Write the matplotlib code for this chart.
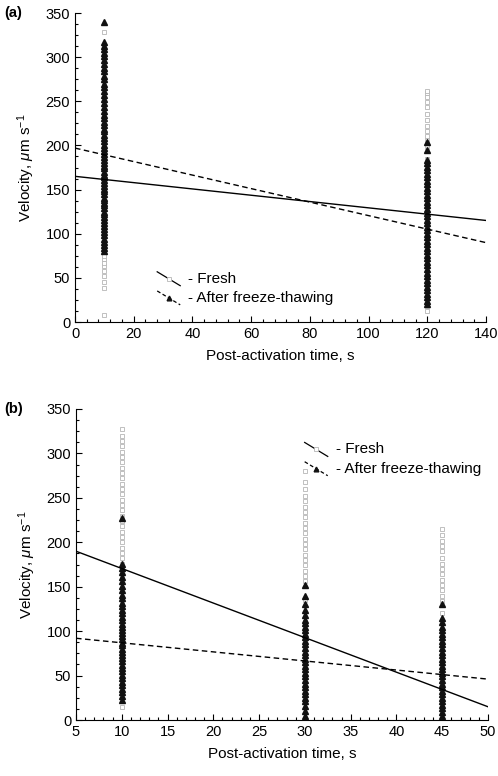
import matplotlib
matplotlib.use('Agg')
import matplotlib.pyplot as plt
from matplotlib.ticker import MultipleLocator, AutoMinorLocator

plt.rcParams['font.family'] = ['Liberation Sans', 'DejaVu Sans']
plt.rcParams['mathtext.fontset'] = 'custom'
plt.rcParams['mathtext.rm'] = 'Liberation Sans'
plt.rcParams['mathtext.it'] = 'Liberation Sans:italic'

# ---- panel (a): 0-140 s ----
a_times = [10, 120]
a_fresh = {
    10: [8, 38, 45, 52, 58, 63, 67, 71, 75, 79, 84, 90, 97, 104, 112, 121, 133, 146,
         160, 175, 188, 202, 218, 236, 252, 268, 284, 296, 312, 328],
    120: [12, 18, 25, 40, 55, 70, 85, 100, 118, 135, 150, 168, 185, 198, 206, 211,
          216, 222, 229, 236, 243, 249, 255, 259, 262],
}
a_thawed = {
    10: [80, 84, 87, 91, 94, 98, 102, 105, 109, 112, 116, 119, 122, 125, 129, 132, 135,
         138, 141, 145, 148, 151, 154, 158, 161, 164, 167, 170, 174, 177, 180, 184, 187,
         190, 194, 197, 201, 205, 208, 212, 216, 219, 223, 227, 231, 235, 239, 244, 248,
         253, 257, 262, 266, 270, 275, 279, 284, 288, 292, 297, 301, 305, 309, 313, 317, 340],
    120: [20, 24, 28, 32, 36, 40, 44, 48, 52, 56, 60, 64, 68, 72, 76, 80, 84, 88, 92, 96,
          100, 104, 108, 112, 116, 120, 124, 128, 132, 136, 140, 144, 148, 152, 156, 160,
          164, 168, 172, 176, 180, 184, 195, 204],
}
a_fit_fresh = (165.0, -0.357)    # intercept, slope
a_fit_thawed = (197.0, -0.765)

# ---- panel (b): 5-50 s ----
b_times = [10, 30, 45]
b_fresh = {
    10: [15, 40, 70, 100, 130, 160, 176, 182, 188, 194, 200, 206, 212, 218, 224, 230, 236,
         242, 248, 254, 260, 266, 272, 278, 284, 290, 296, 302, 308, 314, 320, 328],
    30: [0, 20, 50, 80, 110, 135, 156, 162, 168, 174, 180, 186, 192, 198, 204, 210, 216,
         222, 228, 234, 240, 246, 252, 260, 268, 280],
    45: [0, 15, 40, 70, 100, 120, 134, 140, 146, 152, 158, 164, 170, 176, 182, 190,
         196, 202, 208, 215],
}
b_thawed = {
    10: [22, 27, 31, 35, 39, 43, 47, 51, 55, 59, 62, 66, 70, 73, 77, 80, 84, 87, 91, 94,
         98, 101, 105, 108, 112, 116, 120, 124, 128, 132, 137, 141, 146, 151, 156, 161,
         166, 171, 176, 227],
    30: [5, 10, 16, 21, 25, 29, 33, 37, 41, 45, 49, 53, 57, 61, 65, 69, 73, 77, 81, 85,
         89, 93, 97, 101, 105, 109, 113, 118, 124, 131, 140, 152],
    45: [5, 9, 13, 17, 21, 25, 29, 33, 37, 41, 45, 49, 53, 57, 61, 65, 69, 73, 77, 81,
         85, 89, 93, 97, 101, 105, 110, 115, 130],
}
b_fit_fresh = (209.4, -3.89)
b_fit_thawed = (97.1, -1.022)

W, H = 498, 776
fig = plt.figure(figsize=(W / 100, H / 100), dpi=100)
ax_a = fig.add_axes([75 / W, 1 - 322 / H, 411 / W, 309 / H])
ax_b = fig.add_axes([76 / W, 1 - 720 / H, 412 / W, 311 / H])


def draw_panel(ax, times, fresh, thawed, fit_f, fit_t, xlim, xmajor, legend_xy):
    for t in times:
        ax.plot([t] * len(fresh[t]), fresh[t], 's', ms=3.3, mfc='white',
                mec='#b5b5b5', mew=0.6, ls='none', zorder=2)
    for t in times:
        ax.plot([t] * len(thawed[t]), thawed[t], '^', ms=4.0, color='#111111',
                ls='none', zorder=3)
    xs = [xlim[0], xlim[1]]
    ax.plot(xs, [fit_f[0] + fit_f[1] * x for x in xs], '-', color='black', lw=1.0, zorder=4)
    ax.plot(xs, [fit_t[0] + fit_t[1] * x for x in xs], '--', color='black', lw=1.0,
            dashes=(4, 2.5), zorder=4)

    ax.set_xlim(*xlim)
    ax.set_ylim(0, 350)
    ax.xaxis.set_major_locator(MultipleLocator(xmajor))
    ax.xaxis.set_minor_locator(AutoMinorLocator(5))
    ax.yaxis.set_major_locator(MultipleLocator(50))
    ax.yaxis.set_minor_locator(AutoMinorLocator(4))
    ax.tick_params(which='both', direction='in', labelsize=10.5, width=0.8)
    ax.tick_params(which='major', length=4)
    ax.tick_params(which='minor', length=2.5)
    ax.spines['top'].set_visible(False)
    ax.spines['right'].set_visible(False)
    ax.set_xlabel('Post-activation time, s', fontsize=11, labelpad=6)
    ax.set_ylabel(r'Velocity, $\mu$m s$^{-1}$', fontsize=11, labelpad=6)

    # hand-drawn style legend (axes fraction)
    lx, ly = legend_xy
    dx, dy = 0.056, 0.045
    ax.plot([lx, lx + dx], [ly + dy / 2, ly - dy / 2], '-', color='black', lw=0.9,
            transform=ax.transAxes, clip_on=False)
    ax.plot([lx + dx / 2], [ly], 's', ms=3.2, mfc='white', mec='#b5b5b5', mew=0.6,
            transform=ax.transAxes, clip_on=False)
    ax.text(lx + dx + 0.02, ly, '- Fresh', fontsize=11, va='center',
            transform=ax.transAxes)
    ly2 = ly - 0.062
    ax.plot([lx, lx + dx], [ly2 + dy / 2, ly2 - dy / 2], '--', color='black', lw=0.9,
            dashes=(3, 2), transform=ax.transAxes, clip_on=False)
    ax.plot([lx + dx / 2], [ly2], '^', ms=3.4, color='#111111',
            transform=ax.transAxes, clip_on=False)
    ax.text(lx + dx + 0.02, ly2, '- After freeze-thawing', fontsize=11, va='center',
            transform=ax.transAxes)


draw_panel(ax_a, a_times, a_fresh, a_thawed, a_fit_fresh, a_fit_thawed,
           (0, 140), 20, (0.2, 0.14))
draw_panel(ax_b, b_times, b_fresh, b_thawed, b_fit_fresh, b_fit_thawed,
           (5, 50), 5, (0.555, 0.87))

fig.text(4 / W, 1 - 13 / H, '(a)', fontsize=10.5, fontweight='bold', va='center')
fig.text(4 / W, 1 - 409 / H, '(b)', fontsize=10.5, fontweight='bold', va='center')

fig.savefig('out.png', dpi=100)
